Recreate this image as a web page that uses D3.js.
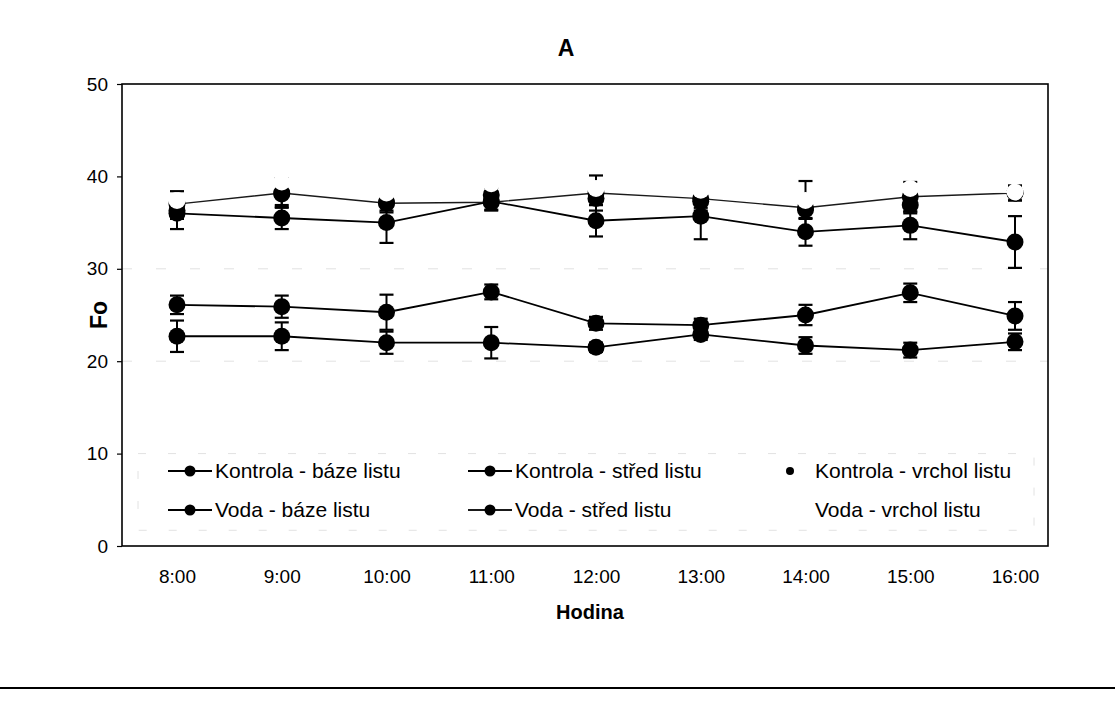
<!DOCTYPE html>
<html>
<head>
<meta charset="utf-8">
<script src="https://cdn.jsdelivr.net/npm/d3@7/dist/d3.min.js"></script>
<style>
  html, body { margin: 0; padding: 0; background: #fff; }
  svg { display: block; font-family: "Liberation Sans", Arial, sans-serif; }
</style>
</head>
<body>
<svg id="chart" width="1115" height="717"></svg>
<script>
// Hodiny měření
const hours = ["8:00", "9:00", "10:00", "11:00", "12:00", "13:00", "14:00", "15:00", "16:00"];
const yTicks = [0, 10, 20, 30, 40, 50];

// Průměrné hodnoty Fo a směrodatné chyby pro jednotlivé varianty
const kontrolaBaze      = [26.1, 25.9, 25.3, 27.5, 24.1, 23.9, 25.0, 27.4, 24.9];
const kontrolaBazeErr   = [1.0, 1.2, 1.9, 0.8, 0.7, 0.7, 1.1, 1.0, 1.5];
const kontrolaStred     = [36.0, 35.5, 35.0, 37.3, 35.2, 35.7, 34.0, 34.7, 32.9];
const kontrolaStredErr  = [1.7, 1.2, 2.2, 0.9, 1.7, 2.5, 1.5, 1.5, 2.8];
const kontrolaVrchol    = [36.3, 38.1, 37.2, 38.0, 37.6, 37.3, 36.4, 36.9, 38.2];
const kontrolaVrcholErr = [0.9, 1.2, 0.9, 0.8, 0.7, 1.0, 1.0, 0.9, 0.8];
const vodaBaze          = [22.7, 22.7, 22.0, 22.0, 21.5, 22.9, 21.7, 21.2, 22.1];
const vodaBazeErr       = [1.7, 1.5, 1.2, 1.7, 0.5, 0.6, 0.9, 0.8, 0.9];
const vodaStred         = [37.0, 38.2, 37.1, 37.2, 38.2, 37.6, 36.6, 37.8, 38.2];
const vodaStredErr      = [1.4, 1.6, 1.0, 0.9, 1.9, 1.0, 2.9, 1.6, 0.8];
const vodaVrchol        = [37.4, 39.4, 38.2, 39.2, 38.7, 38.5, 37.4, 38.7, 38.3];

// Série v pořadí kreslení (poslední je nahoře)
const series = [
  { name: "Kontrola - báze listu",   values: kontrolaBaze,   err: kontrolaBazeErr,   line: "#000", lw: 1.8, fill: "#000", r: 8.5, legendR: 5.5 },
  { name: "Kontrola - střed listu",  values: kontrolaStred,  err: kontrolaStredErr,  line: "#000", lw: 1.8, fill: "#000", r: 8.5, legendR: 5.5 },
  { name: "Kontrola - vrchol listu", values: kontrolaVrchol, err: kontrolaVrcholErr, line: null,   lw: 0,   fill: "#000", r: 8.5, legendR: 4 },
  { name: "Voda - báze listu",       values: vodaBaze,       err: vodaBazeErr,       line: "#000", lw: 1.8, fill: "#000", r: 8.5, legendR: 5.5 },
  { name: "Voda - střed listu",      values: vodaStred,      err: vodaStredErr,      line: "#1a1a1a", lw: 1.4, fill: "#000", r: 8.5, legendR: 5.5 },
  { name: "Voda - vrchol listu",     values: vodaVrchol,     err: null,              line: "#fff", lw: 2.4, fill: "#fff", r: 8.5, legendR: 5.5 }
];
const legendOrder = [0, 1, 2, 3, 4, 5];

const svg = d3.select("#chart");
const plot = { left: 122, right: 1048, top: 84, bottom: 546 };

const x = d3.scalePoint().domain(hours).range([177, 1015]);
const y = d3.scaleLinear().domain([0, 50]).range([plot.bottom, plot.top]);

// Slabé zbytky mřížky
svg.append("g")
  .selectAll("line")
  .data([20, 30])
  .join("line")
  .attr("x1", plot.left).attr("x2", plot.right)
  .attr("y1", d => y(d)).attr("y2", d => y(d))
  .attr("stroke", "#e2e2e2")
  .attr("stroke-width", 1)
  .attr("stroke-dasharray", "10,24");

// Rámeček legendy (světlý)
svg.append("rect")
  .attr("x", 138).attr("y", y(10))
  .attr("width", 896).attr("height", y(1.7) - y(10))
  .attr("fill", "none")
  .attr("stroke", "#e2e2e2")
  .attr("stroke-width", 1)
  .attr("stroke-dasharray", "8,22");

// Osy
const yAxis = d3.axisLeft(y).tickValues(yTicks).tickSize(5).tickPadding(9);
const gy = svg.append("g").attr("transform", `translate(${plot.left},0)`).call(yAxis);
gy.attr("font-size", 19).attr("font-family", null);
gy.select(".domain").remove();
gy.selectAll("line").attr("stroke", "#000").attr("stroke-width", 1.2);
gy.selectAll("text").attr("fill", "#000");

const xAxis = d3.axisBottom(x).tickSize(0).tickPadding(24);
const gx = svg.append("g").attr("transform", `translate(0,${plot.bottom})`).call(xAxis);
gx.attr("font-size", 19).attr("font-family", null);
gx.select(".domain").remove();
gx.selectAll("text").attr("fill", "#000");

// Rámeček grafu
svg.append("rect")
  .attr("x", plot.left).attr("y", plot.top)
  .attr("width", plot.right - plot.left).attr("height", plot.bottom - plot.top)
  .attr("fill", "none").attr("stroke", "#000").attr("stroke-width", 1.6);

// Data
const lineGen = d3.line().x((d, i) => x(hours[i])).y(d => y(d));
const cap = 7;

series.forEach(s => {
  const g = svg.append("g");
  if (s.line) {
    g.append("path")
      .datum(s.values)
      .attr("d", lineGen)
      .attr("fill", "none")
      .attr("stroke", s.line)
      .attr("stroke-width", s.lw);
  }
  if (s.err) {
    const eb = g.append("g").selectAll("g")
      .data(s.values.map((v, i) => ({ v, e: s.err[i], h: hours[i] })))
      .join("g");
    eb.append("line")
      .attr("x1", d => x(d.h)).attr("x2", d => x(d.h))
      .attr("y1", d => y(d.v + d.e)).attr("y2", d => y(d.v - d.e))
      .attr("stroke", "#000").attr("stroke-width", 2);
    eb.append("line")
      .attr("x1", d => x(d.h) - cap).attr("x2", d => x(d.h) + cap)
      .attr("y1", d => y(d.v + d.e)).attr("y2", d => y(d.v + d.e))
      .attr("stroke", "#000").attr("stroke-width", 2.2);
    eb.append("line")
      .attr("x1", d => x(d.h) - cap).attr("x2", d => x(d.h) + cap)
      .attr("y1", d => y(d.v - d.e)).attr("y2", d => y(d.v - d.e))
      .attr("stroke", "#000").attr("stroke-width", 2.2);
  }
  g.append("g").selectAll("circle")
    .data(s.values)
    .join("circle")
    .attr("cx", (d, i) => x(hours[i]))
    .attr("cy", d => y(d))
    .attr("r", s.r)
    .attr("fill", s.fill);
});

// Legenda
const legCols = [190, 490, 790];
const legRows = [471, 510];
const leg = svg.append("g").attr("font-size", 21);
legendOrder.forEach((si, k) => {
  const s = series[si];
  const col = k % 3, row = Math.floor(k / 3);
  const cx = legCols[col], cy = legRows[row];
  const item = leg.append("g");
  if (s.line) {
    item.append("line")
      .attr("x1", cx - 22).attr("x2", cx + 22)
      .attr("y1", cy).attr("y2", cy)
      .attr("stroke", s.line).attr("stroke-width", 1.8);
  }
  item.append("circle").attr("cx", cx).attr("cy", cy).attr("r", s.legendR).attr("fill", s.fill);
  item.append("text")
    .attr("x", cx + 25).attr("y", cy)
    .attr("dy", "0.35em")
    .attr("fill", "#000")
    .text(s.name);
});

// Popisky
svg.append("text")
  .attr("x", 566).attr("y", 56)
  .attr("text-anchor", "middle")
  .attr("font-size", 23).attr("font-weight", "bold")
  .text("A");

svg.append("text")
  .attr("transform", "translate(107,315) rotate(-90)")
  .attr("text-anchor", "middle")
  .attr("font-size", 23).attr("font-weight", "bold")
  .text("Fo");

svg.append("text")
  .attr("x", 590).attr("y", 619)
  .attr("text-anchor", "middle")
  .attr("font-size", 20).attr("font-weight", "bold")
  .text("Hodina");

// Spodní oddělovací čára
svg.append("line")
  .attr("x1", 0).attr("x2", 1115)
  .attr("y1", 688).attr("y2", 688)
  .attr("stroke", "#000").attr("stroke-width", 2);
</script>
</body>
</html>
